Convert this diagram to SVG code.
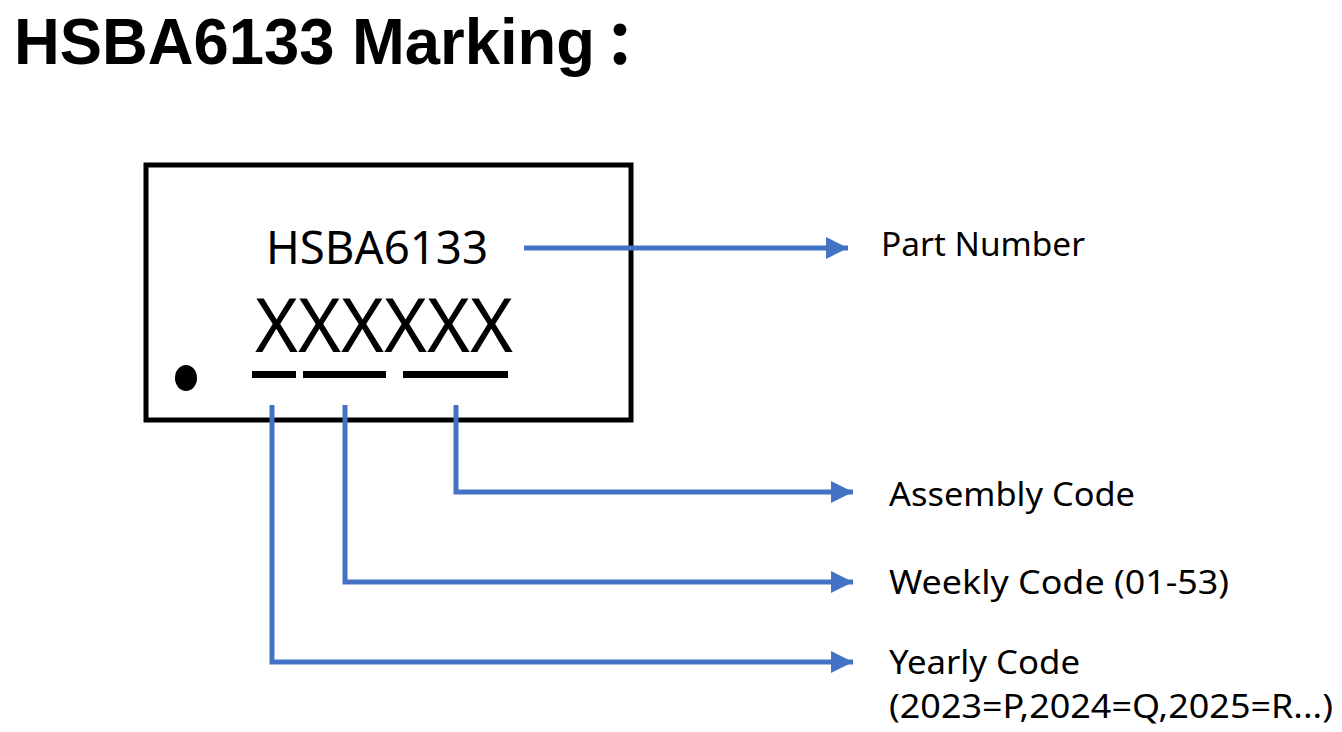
<svg xmlns="http://www.w3.org/2000/svg" width="1342" height="732" viewBox="0 0 1342 732">
<style>
.t{font-family:"Noto Sans","Liberation Sans","Noto Sans CJK SC",sans-serif;fill:#000}
.ttl{font-family:"Liberation Sans","Noto Sans CJK SC",sans-serif;font-weight:bold;font-size:64px;fill:#000}
.lbl{font-size:32px}
.c{fill:none;stroke:#4472C4;stroke-width:5}
</style>
<defs>
<marker id="ah" viewBox="0 0 10 10" refX="10" refY="5" markerWidth="5" markerHeight="4.4" markerUnits="strokeWidth" orient="auto">
<path d="M0,0 L10,5 L0,10 z" fill="#4472C4"/>
</marker>
</defs>
<rect width="1342" height="732" fill="#fff"/>
<g id="title">
<text class="ttl" x="14" y="64"><tspan textLength="581" lengthAdjust="spacingAndGlyphs">HSBA6133 Marking</tspan><tspan x="605" style="font-family:'Noto Sans CJK SC',sans-serif;font-weight:900;font-size:60px">：</tspan></text>
</g>
<g id="chip">
<rect x="146" y="165" width="485" height="255" fill="#fff" stroke="#000" stroke-width="5"/>
<text class="t" x="266" y="264" font-size="45" textLength="222" lengthAdjust="spacingAndGlyphs">HSBA6133</text>
<text class="t" x="255" y="352" font-size="74" textLength="258" lengthAdjust="spacingAndGlyphs">XXXXXX</text>
<rect x="252" y="371" width="44" height="7" fill="#000"/>
<rect x="303" y="371" width="83" height="7" fill="#000"/>
<rect x="403" y="371" width="105" height="7" fill="#000"/>
<ellipse cx="186" cy="378" rx="11" ry="13" fill="#000"/>
</g>
<g id="connectors">
<path class="c" d="M524,248 H848" marker-end="url(#ah)"/>
<path class="c" d="M456,405 V492 H853" marker-end="url(#ah)"/>
<path class="c" d="M345,405 V582 H853" marker-end="url(#ah)"/>
<path class="c" d="M272,405 V662 H853" marker-end="url(#ah)"/>
</g>
<g id="part-number">
<text class="t lbl" x="881" y="256" textLength="204" lengthAdjust="spacingAndGlyphs">Part Number</text>
</g>
<g id="assembly-code">
<text class="t lbl" x="889" y="506" textLength="246" lengthAdjust="spacingAndGlyphs">Assembly Code</text>
</g>
<g id="weekly-code">
<text class="t lbl" x="889" y="594" textLength="340" lengthAdjust="spacingAndGlyphs">Weekly Code (01-53)</text>
</g>
<g id="yearly-code">
<text class="t lbl" x="889" y="674" textLength="191" lengthAdjust="spacingAndGlyphs">Yearly Code</text>
<text class="t lbl" x="889" y="718" textLength="444" lengthAdjust="spacingAndGlyphs">(2023=P,2024=Q,2025=R...)</text>
</g>
</svg>
